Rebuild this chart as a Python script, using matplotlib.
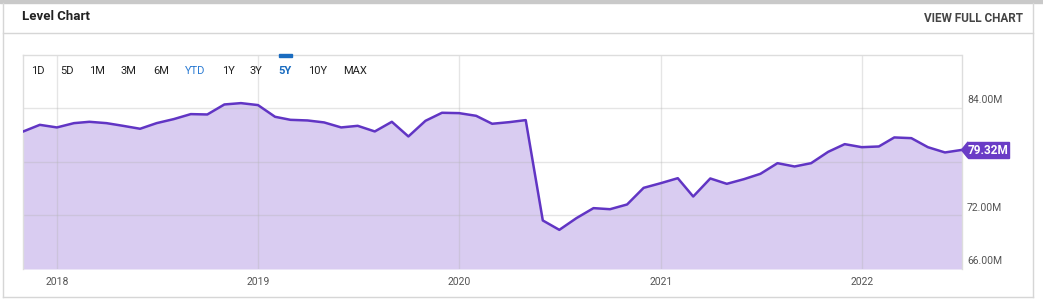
import matplotlib
matplotlib.use("Agg")
import matplotlib.pyplot as plt
from matplotlib.patches import Rectangle, Polygon
from matplotlib.lines import Line2D
import pandas as pd

plt.rcParams['font.family'] = ['Roboto', 'DejaVu Sans']

# ---- data ----
dates = pd.date_range("2017-11-01", "2022-07-01", freq="MS")
values = [81.39, 82.13, 81.84, 82.32, 82.47, 82.32, 82.02, 81.69, 82.32, 82.77,
          83.33, 83.29, 84.41, 84.56, 84.34, 83.03, 82.69, 82.62, 82.40, 81.84,
          82.02, 81.39, 82.47, 80.83, 82.58, 83.48, 83.44, 83.14, 82.25, 82.43,
          82.66, 71.43, 70.38, 71.69, 72.81, 72.69, 73.22, 75.08, 75.60, 76.16,
          74.11, 76.13, 75.53, 76.05, 76.65, 77.84, 77.47, 77.84, 79.11, 79.97,
          79.63, 79.71, 80.72, 80.64, 79.63, 79.04, 79.32]
y_ticks = [66, 72, 78, 84]
y_tick_labels = ["66.00M", "72.00M", "78.00M", "84.00M"]
year_ticks = ["2018", "2019", "2020", "2021", "2022"]
range_buttons = ["1D", "5D", "1M", "3M", "6M", "YTD", "1Y", "3Y", "5Y", "10Y", "MAX"]
last_label = "79.32M"

W, H = 1043, 302
fig = plt.figure(figsize=(W / 100, H / 100), dpi=100)

def fx(x):
    return x / W

def fy(y):
    return 1 - y / H

# ---- card chrome ----
fig.patches.append(Rectangle((0, fy(3)), 1, 3 / H, transform=fig.transFigure,
                             color="#c9c9c9", zorder=0))
for seg in [((3, 3), (3, 297)), ((1033, 1033), (3, 297)), ((3, 1033), (297, 297)),
            ((3, 1033), (33, 33))]:
    fig.lines.append(Line2D([fx(v) for v in seg[0]], [fy(v) for v in seg[1]],
                            transform=fig.transFigure, color="#d6d6d6", lw=1))
fig.text(fx(22), fy(17), "Level Chart", fontsize=9.5, fontweight="bold",
         color="#222222", va="center", ha="left")
fig.text(fx(1023), fy(18), "VIEW FULL CHART", fontsize=8.5, fontweight="bold",
         color="#444444", va="center", ha="right")

# ---- plot area ----
left, right, top, bottom = 23.3, 961.5, 54.5, 269
ax = fig.add_axes([fx(left), fy(bottom), fx(right - left), (bottom - top) / H])
ax.set_xlim(pd.Timestamp("2017-11-01"), pd.Timestamp("2022-07-01"))
ax.set_ylim(66, 90)

ax.fill_between(dates, values, 66, color="#d9ccf1", lw=0, zorder=1)
ax.plot(dates, values, color="#6135c4", lw=1.8, zorder=3)

for yv in y_ticks[1:]:
    ax.axhline(yv, color="#b5b5b5", alpha=0.35, lw=1, zorder=2)
for yr in year_ticks:
    ax.axvline(pd.Timestamp(f"{yr}-01-01"), color="#b5b5b5", alpha=0.35, lw=1, zorder=2)

ax.spines["bottom"].set_visible(False)
for s in ["top", "left", "right"]:
    ax.spines[s].set_color("#dddddd")
    ax.spines[s].set_linewidth(1)
ax.set_yticks([])
ax.set_xticks([pd.Timestamp(f"{yr}-01-01") for yr in year_ticks])
ax.set_xticklabels(year_ticks, fontsize=7.5, color="#555555")
ax.tick_params(axis="x", length=0, pad=6)

# y labels on the right, just above gridlines
for yv, lab in zip(y_ticks, y_tick_labels):
    ax.annotate(lab, xy=(1, yv), xycoords=("axes fraction", "data"),
                xytext=(4, 2), textcoords="offset points", fontsize=7.5,
                color="#555555", ha="left", va="bottom", annotation_clip=False,
                zorder=4)

# range buttons
btn_x = [38, 67, 97, 128, 161, 195, 228, 256, 285, 318, 355]
for lab, bx in zip(range_buttons, btn_x):
    color = "#222222"
    weight = "normal"
    if lab == "YTD":
        color = "#2b7bd3"
    if lab == "5Y":
        color = "#1a6cc0"
        weight = "bold"
    fig.text(fx(bx), fy(71), lab, fontsize=8, color=color, fontweight=weight,
             ha="center", va="center")
fig.patches.append(Rectangle((fx(279), fy(56.5)), 13 / W, 2.5 / H,
                             transform=fig.transFigure, color="#1a6cc0", zorder=5))

# last value badge (rectangle + pointer), centred on the last value
ylast = values[-1]
y_badge_px = bottom - (ylast - 66) / (90 - 66) * (bottom - top)
badge_col = "#6a3cc6"
fig.patches.append(Rectangle((fx(967.5), fy(y_badge_px + 8)), 42 / W, 16 / H,
                             transform=fig.transFigure, color=badge_col, zorder=20))
fig.patches.append(Polygon([(fx(961.5), fy(y_badge_px)),
                            (fx(968), fy(y_badge_px - 8)),
                            (fx(968), fy(y_badge_px + 8))],
                           closed=True, transform=fig.transFigure,
                           color=badge_col, zorder=20))
t = fig.text(fx(988.5), fy(y_badge_px + 0.5), last_label, fontsize=8.5,
             fontweight="bold", color="white", ha="center", va="center")
t.set_zorder(21)

fig.savefig("out.png", dpi=100)
